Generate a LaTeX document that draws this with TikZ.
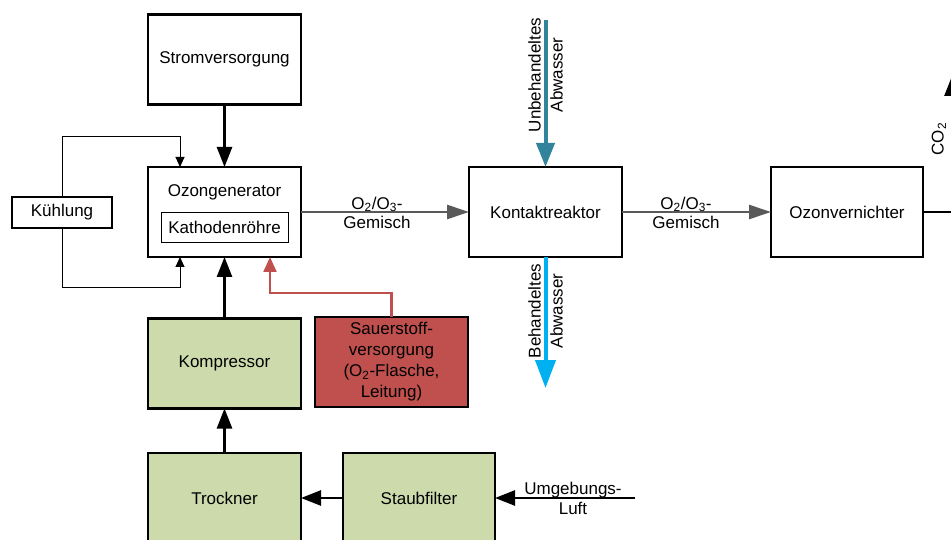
\documentclass[tikz,border=0pt]{standalone}
\usepackage{fontspec}
\setmainfont{Liberation Sans}
\usetikzlibrary{arrows.meta}
\definecolor{boxgreen}{HTML}{CDDAAC}
\definecolor{boxred}{HTML}{C0504D}
\definecolor{linered}{HTML}{C0504D}
\definecolor{gasgray}{HTML}{595959}
\definecolor{rawteal}{HTML}{31849B}
\definecolor{cleanblue}{HTML}{00B0F0}
\begin{document}
\begin{tikzpicture}[x=1pt,y=-1pt,
  font=\fontsize{17}{20}\selectfont,
  blk/.style={draw, line width=2.6pt, minimum width=153pt, minimum height=90pt,
    align=center, inner sep=0pt, outer sep=0pt},
  flow/.style={line width=2.6pt, -{Triangle[length=20pt,width=15pt]}},
  gasflow/.style={draw=gasgray, line width=2.6pt,
    -{Triangle[length=22pt,width=14pt]}},
  coolflow/.style={line width=0.9pt, -{Triangle[length=10pt,width=9pt]}},
  o2flow/.style={draw=linered, line width=2.2pt,
    -{Triangle[length=15pt,width=13pt]}},
  rawflow/.style={draw=rawteal, line width=4pt,
    -{Triangle[length=24pt,width=18pt]}},
  cleanflow/.style={draw=cleanblue, line width=4pt,
    -{Triangle[length=28pt,width=20pt]}},
  gaslbl/.style={align=center, font=\fontsize{17}{19}\selectfont},
  waterlbl/.style={align=center, rotate=90, font=\fontsize{17}{22}\selectfont}]

\clip (0,0) rectangle (951,540);
\useasboundingbox (0,0) rectangle (951,540);

% process units
\node[blk] (strom) at (224.5,59.5) {Stromversorgung};
\node[blk] (ozon) at (224.5,212) {};
\node (ozt) at (224.5,192) {Ozongenerator};
\node[draw, line width=1pt, minimum width=127pt, minimum height=30pt,
  inner sep=0pt] (kath) at (224.5,227.5) {Kathodenröhre};
\node[blk, minimum width=100pt, minimum height=31pt] (kuehl) at (62,212.5) {Kühlung};
\node[blk] (kontakt) at (545.5,212) {Kontaktreaktor};
\node[blk, minimum width=152pt] (vern) at (847,212) {Ozonvernichter};
\node[blk, fill=boxgreen] (komp) at (224.5,363.5) {Kompressor};
\node[blk, fill=boxred, font=\fontsize{17}{21}\selectfont] (sauer) at (391.5,362)
  {Sauerstoff-\\versorgung\\(O\textsubscript{2}-Flasche,\\Leitung)};
\node[blk, fill=boxgreen] (trock) at (224.5,498) {Trockner};
\node[blk, fill=boxgreen, minimum width=152pt] (staub) at (419,498) {Staubfilter};

% air / power path
\draw[flow] (strom) -- (ozon);
\draw[flow] (komp) -- (ozon);
\draw[flow] (trock) -- (komp);
\draw[flow] (staub) -- (trock);
\coordinate (luft) at (635,498);
\draw[flow] (luft) -- (staub);
\node[align=center] (luftlbl) at (573,498) {Umgebungs-\\Luft};

% cooling loop
\coordinate (kt) at (180,136);
\coordinate (kb) at (180,287);
\draw[coolflow] (kuehl.north) |- (kt) -- (kt |- ozon.north);
\draw[coolflow] (kuehl.south) |- (kb) -- (kb |- ozon.south);

% oxygen supply
\coordinate (rk) at (270,293);
\draw[o2flow] (sauer.north) |- (rk) -- (rk |- ozon.south);

% gas mixture
\draw[gasflow] (ozon.east) -- (kontakt.west);
\node[gaslbl] (g1) at (377,212.5) {O\textsubscript{2}/O\textsubscript{3}-\\Gemisch};
\draw[gasflow] (kontakt.east) -- (vern.west);
\node[gaslbl] (g2) at (686,212.5) {O\textsubscript{2}/O\textsubscript{3}-\\Gemisch};

% waste water
\coordinate (roh) at (545.5,20);
\draw[rawflow] (roh) -- (kontakt.north);
\node[waterlbl] (rohlbl) at (545.5,75) {Unbehandeltes\\Abwasser};
\coordinate (rein) at (545.5,388);
\draw[cleanflow] (kontakt.south) -- (rein);
\node[waterlbl] (reinlbl) at (545.5,311) {Behandeltes\\Abwasser};

% off-gas
\coordinate (c1) at (952,212);
\coordinate (c2) at (952,76);
\draw[flow] (vern.east) -- (c1) -- (c2);
\node[rotate=90] (co2) at (939,139) {CO\textsubscript{2}};
\end{tikzpicture}
\end{document}
